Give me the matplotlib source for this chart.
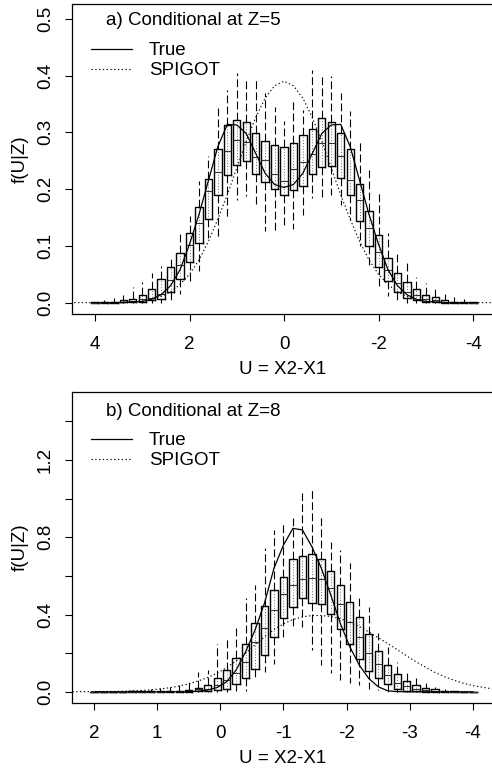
import matplotlib
matplotlib.use("Agg")
import matplotlib.pyplot as plt

plt.rcParams['font.family'] = ['Liberation Sans', 'DejaVu Sans']
plt.rcParams['font.size'] = 13.5

# ---------------- panel a: conditional at Z=5 ----------------
u_a = [4.0, 3.8, 3.6, 3.4, 3.2, 3.0, 2.8, 2.6, 2.4, 2.2, 2.0, 1.8, 1.6, 1.4,
       1.2, 1.0, 0.8, 0.6, 0.4, 0.2, 0.0, -0.2, -0.4, -0.6, -0.8, -1.0, -1.2,
       -1.4, -1.6, -1.8, -2.0, -2.2, -2.4, -2.6, -2.8, -3.0, -3.2, -3.4, -3.6,
       -3.8, -4.0]
lo_a = [0, 0, 0, 0, 0, 0, 0, 0, 0.002, 0.016, 0.037, 0.055, 0.11, 0.116,
        0.149, 0.181, 0.187, 0.169, 0.127, 0.126, 0.132, 0.13, 0.155, 0.184,
        0.184, 0.19, 0.172, 0.146, 0.099, 0.066, 0.028, 0.012, 0.002, 0, 0, 0,
        0, 0, 0, 0, 0]
q1_a = [0, 0, 0, 0.001, 0.001, 0.002, 0.004, 0.006, 0.019, 0.041, 0.072,
        0.105, 0.147, 0.19, 0.225, 0.243, 0.249, 0.227, 0.212, 0.2, 0.19, 0.199,
        0.206, 0.227, 0.239, 0.241, 0.219, 0.19, 0.143, 0.099, 0.063, 0.039,
        0.019, 0.008, 0.005, 0.002, 0.001, 0, 0, 0, 0]
med_a = [0, 0.0005, 0.001, 0.002, 0.003, 0.007, 0.009, 0.016, 0.04, 0.066,
         0.102, 0.14, 0.197, 0.23, 0.267, 0.286, 0.283, 0.256, 0.252, 0.226,
         0.215, 0.236, 0.247, 0.261, 0.281, 0.282, 0.258, 0.216, 0.181, 0.131,
         0.09, 0.058, 0.034, 0.018, 0.014, 0.006, 0.004, 0.002, 0.001, 0.0005, 0]
q3_a = [0.0005, 0.001, 0.002, 0.004, 0.006, 0.013, 0.024, 0.041, 0.062, 0.087,
        0.122, 0.168, 0.218, 0.27, 0.313, 0.322, 0.319, 0.298, 0.284, 0.278,
        0.275, 0.281, 0.296, 0.306, 0.325, 0.318, 0.299, 0.271, 0.209, 0.162,
        0.119, 0.078, 0.053, 0.037, 0.024, 0.014, 0.01, 0.005, 0.002, 0.001,
        0.0005]
hi_a = [0.001, 0.004, 0.008, 0.014, 0.028, 0.037, 0.052, 0.065, 0.081, 0.122,
        0.152, 0.215, 0.258, 0.343, 0.375, 0.405, 0.396, 0.393, 0.369, 0.345,
        0.32, 0.357, 0.34, 0.41, 0.4, 0.4, 0.37, 0.337, 0.284, 0.234, 0.193,
        0.122, 0.087, 0.075, 0.046, 0.034, 0.028, 0.016, 0.01, 0.006, 0.002]
true_a = [0, 0, 0, 0, 0.001, 0.002, 0.006, 0.014, 0.03, 0.058, 0.103, 0.155,
          0.215, 0.275, 0.314, 0.313, 0.298, 0.263, 0.228, 0.208, 0.203, 0.208,
          0.228, 0.263, 0.298, 0.313, 0.314, 0.275, 0.215, 0.155, 0.103, 0.058,
          0.03, 0.014, 0.006, 0.002, 0.001, 0, 0, 0, 0]
spig_u_a = [4.6] + u_a + [-4.6]
spig_a = [0, 0, 0.0001, 0.0003, 0.0007, 0.0015, 0.003, 0.006, 0.011, 0.019,
          0.032, 0.05, 0.075, 0.108, 0.147, 0.19, 0.237, 0.284, 0.326, 0.36,
          0.382, 0.39, 0.382, 0.36, 0.326, 0.284, 0.237, 0.19, 0.147, 0.108,
          0.075, 0.05, 0.032, 0.019, 0.011, 0.006, 0.003, 0.0015, 0.0007,
          0.0003, 0.0001, 0, 0]

# ---------------- panel b: conditional at Z=8 ----------------
u_b = [2.0, 1.85, 1.7, 1.55, 1.4, 1.25, 1.1, 0.95, 0.8, 0.65, 0.5, 0.35, 0.2,
       0.05, -0.1, -0.25, -0.4, -0.55, -0.7, -0.85, -1.0, -1.15, -1.3, -1.45,
       -1.6, -1.75, -1.9, -2.05, -2.2, -2.35, -2.5, -2.65, -2.8, -2.95, -3.1,
       -3.25, -3.4, -3.55, -3.7, -3.85, -4.0]
lo_b = [0, 0, 0, 0, 0, 0, 0, 0, 0, 0, 0, 0, 0, 0, 0, 0.005, 0.005, 0.06, 0.1,
        0.143, 0.285, 0.337, 0.337, 0.216, 0.14, 0.095, 0.06, 0.043, 0.035,
        0.017, 0.009, 0, 0, 0, 0, 0, 0, 0, 0, 0, 0]
q1_b = [0, 0, 0, 0, 0, 0, 0, 0, 0.001, 0.001, 0.001, 0.004, 0.005, 0.009,
        0.017, 0.04, 0.069, 0.116, 0.19, 0.282, 0.38, 0.44, 0.484, 0.461, 0.454,
        0.402, 0.323, 0.247, 0.168, 0.109, 0.069, 0.04, 0.017, 0.005, 0.002, 0,
        0, 0, 0, 0, 0]
med_b = [0, 0, 0, 0, 0.001, 0.001, 0.001, 0.001, 0.002, 0.002, 0.003, 0.012,
         0.017, 0.035, 0.06, 0.095, 0.155, 0.259, 0.33, 0.423, 0.504, 0.553,
         0.582, 0.587, 0.582, 0.535, 0.454, 0.363, 0.285, 0.199, 0.143, 0.086,
         0.047, 0.029, 0.017, 0.009, 0.004, 0.002, 0.001, 0, 0]
q3_b = [0, 0, 0.001, 0.001, 0.002, 0.002, 0.002, 0.003, 0.004, 0.005, 0.007,
        0.022, 0.035, 0.074, 0.112, 0.173, 0.25, 0.354, 0.444, 0.527, 0.596,
        0.687, 0.703, 0.713, 0.686, 0.627, 0.553, 0.466, 0.385, 0.299, 0.212,
        0.138, 0.092, 0.057, 0.035, 0.022, 0.013, 0.006, 0.003, 0.001, 0.0005]
hi_b = [0.001, 0.002, 0.004, 0.005, 0.007, 0.01, 0.013, 0.018, 0.026, 0.035,
        0.05, 0.1, 0.112, 0.25, 0.28, 0.34, 0.484, 0.553, 0.743, 0.838, 0.88,
        0.9, 1.028, 1.048, 0.907, 0.777, 0.734, 0.665, 0.5, 0.44, 0.302, 0.233,
        0.155, 0.104, 0.069, 0.043, 0.026, 0.012, 0.006, 0.003, 0.001]
true_b = [0, 0, 0, 0, 0, 0, 0, 0, 0, 0, 0, 0.003, 0.009, 0.022, 0.052, 0.112,
          0.207, 0.32, 0.46, 0.64, 0.76, 0.846, 0.838, 0.751, 0.639, 0.5, 0.354,
          0.233, 0.138, 0.069, 0.026, 0.005, 0.001, 0, 0, 0, 0, 0, 0, 0, 0]
spig_u_b = [2.4] + u_b + [-4.4]
spig_b = [0.0005, 0.001, 0.0015, 0.002, 0.003, 0.005, 0.007, 0.01, 0.015,
          0.021, 0.03, 0.041, 0.056, 0.074, 0.097, 0.125, 0.16, 0.2, 0.243,
          0.285, 0.322, 0.352, 0.374, 0.388, 0.395, 0.395, 0.39, 0.378, 0.36,
          0.338, 0.31, 0.28, 0.25, 0.218, 0.186, 0.155, 0.127, 0.1, 0.078, 0.06,
          0.044, 0.032, 0.01]

dash = (0, (7, 3))
dots = (0, (1.2, 2.2))


def draw_panel(ax, u, lo, q1, med, q3, hi, true, su, spig, width):
    stats = []
    for i in range(len(u)):
        stats.append({"whislo": lo[i], "q1": q1[i], "med": med[i],
                      "q3": q3[i], "whishi": hi[i]})
    ax.vlines(u, q1, q3, colors="0.35", linestyles=dots, lw=0.6, zorder=1)
    ax.bxp(stats, positions=u, widths=width, showfliers=False,
           showcaps=False, manage_ticks=False,
           boxprops=dict(color="black", lw=1.0),
           medianprops=dict(color="0.2", lw=0.8),
           whiskerprops=dict(color="black", lw=0.8, linestyle=dash))
    ax.plot(u, true, color="black", lw=0.9, label="True", zorder=4)
    ax.plot(su, spig, color="black", lw=0.8, linestyle=dots,
            label="SPIGOT", zorder=4)


fig = plt.figure(figsize=(4.92, 7.73), dpi=100)
W, H = 492.0, 773.0
ax1 = fig.add_axes([72 / W, 1 - 314 / H, 421 / W, 310 / H])
ax2 = fig.add_axes([72 / W, 1 - 703 / H, 421 / W, 311 / H])

draw_panel(ax1, u_a, lo_a, q1_a, med_a, q3_a, hi_a, true_a, spig_u_a, spig_a, 0.155)
draw_panel(ax2, u_b, lo_b, q1_b, med_b, q3_b, hi_b, true_b, spig_u_b, spig_b, 0.115)

ax1.set_xlim(4.487, -4.423)
ax1.set_ylim(-0.02, 0.526)
ax1.set_xticks([4, 2, 0, -2, -4])
ax1.set_xticklabels(["4", "2", "0", "-2", "-4"])
ax1.set_yticks([0, 0.1, 0.2, 0.3, 0.4, 0.5])
ax1.set_yticklabels(["0.0", "0.1", "0.2", "0.3", "0.4", "0.5"])

ax2.set_xlim(2.348, -4.317)
ax2.set_ylim(-0.058, 1.552)
ax2.set_xticks([2, 1, 0, -1, -2, -3, -4])
ax2.set_xticklabels(["2", "1", "0", "-1", "-2", "-3", "-4"])
ax2.set_yticks([0, 0.2, 0.4, 0.6, 0.8, 1.0, 1.2, 1.4])
ax2.set_yticklabels(["0.0", "", "0.4", "", "0.8", "", "1.2", ""])

titles = ["a) Conditional at Z=5", "b) Conditional at Z=8"]
title_y = [0.948, 0.936]
leg_y = [0.877, 0.871]
for k, ax in enumerate([ax1, ax2]):
    for s in ax.spines.values():
        s.set_linewidth(0.9)
    ax.tick_params(direction="out", length=5, width=0.8)
    ax.tick_params(axis="y", pad=8)
    ax.tick_params(axis="x", pad=10.5)
    for t in ax.get_yticklabels():
        t.set_rotation(90)
        t.set_va("center")
    ax.set_xlabel("U = X2-X1", labelpad=6)
    ax.set_ylabel("f(U|Z)", labelpad=6)
    ax.text(0.081, title_y[k], titles[k], transform=ax.transAxes,
            ha="left", va="center")
    ax.legend(loc="upper left", bbox_to_anchor=(0.045, leg_y[k]),
              frameon=False, handlelength=2.2, handletextpad=0.9,
              labelspacing=0.15, borderpad=0, borderaxespad=0)

fig.savefig("out.png", dpi=100)
